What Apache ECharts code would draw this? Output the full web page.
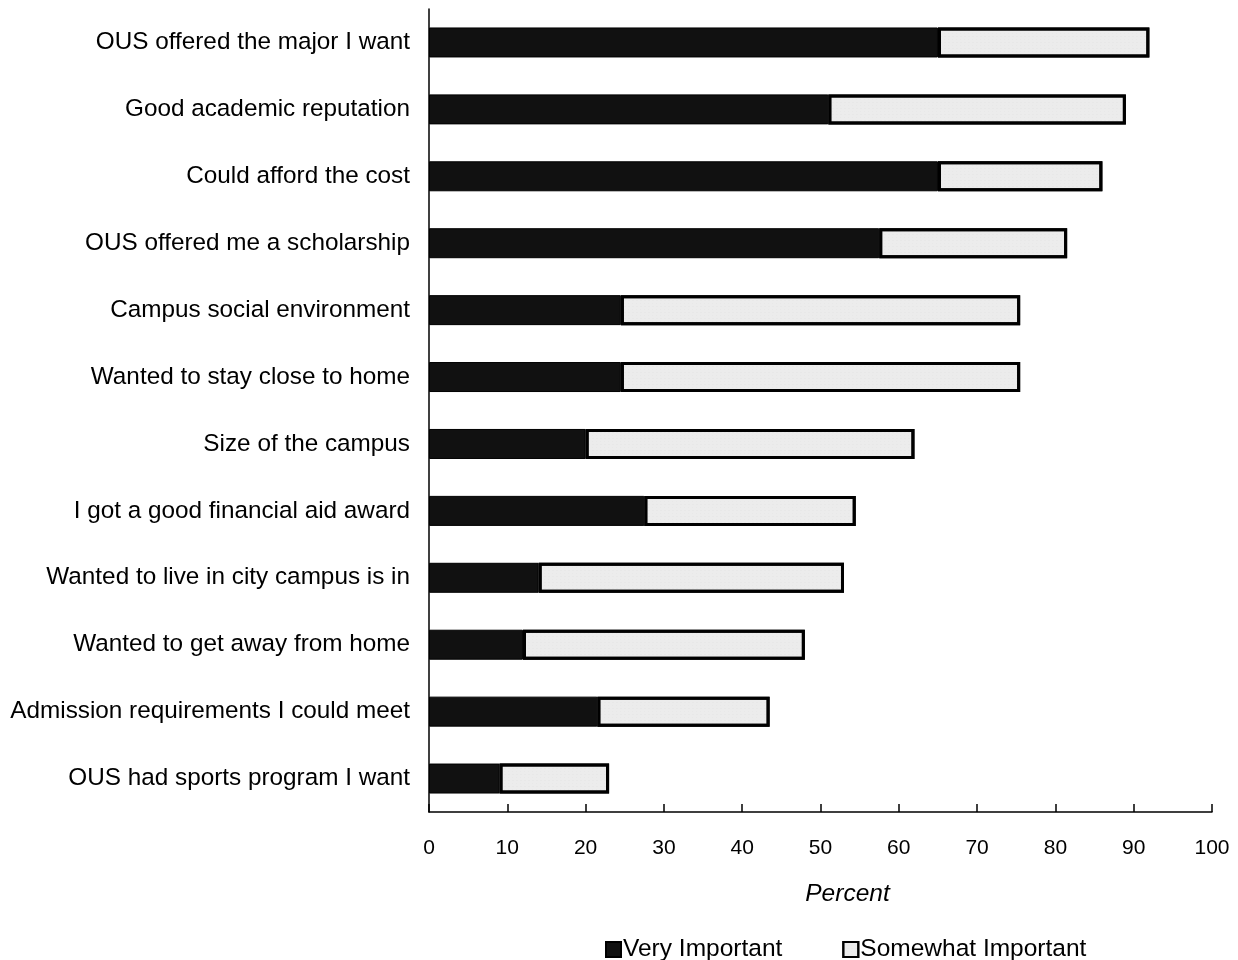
<!doctype html>
<html>
<head>
<meta charset="utf-8">
<script src="https://cdn.jsdelivr.net/npm/echarts@6/dist/echarts.min.js"></script>
<style>
  html, body { margin: 0; padding: 0; background: #fff; }
  #chart { width: 1238px; height: 960px; }
</style>
</head>
<body>
<div id="chart"></div>
<script>
// reasons for choosing OUS, percent of students
var reasons = [
  'OUS offered the major I want',
  'Good academic reputation',
  'Could afford the cost',
  'OUS offered me a scholarship',
  'Campus social environment',
  'Wanted to stay close to home',
  'Size of the campus',
  'I got a good financial aid award',
  'Wanted to live in city campus is in',
  'Wanted to get away from home',
  'Admission requirements I could meet',
  'OUS had sports program I want'
];
var veryImportant     = [65, 51, 65, 57.5, 24.5, 24.5, 20, 27.5, 14, 12, 21.5, 9];
var somewhatImportant = [27, 38, 21, 24, 51, 51, 42, 27, 39, 36, 22, 14];
var xTicks = [0, 10, 20, 30, 40, 50, 60, 70, 80, 90, 100];

var font = '"Liberation Sans", Arial, sans-serif';
var chart = echarts.init(document.getElementById('chart'));

var option = {
  animation: false,
  textStyle: { fontFamily: font, color: '#000' },
  grid: { left: 429, right: 26, top: 9, bottom: 148 },
  legend: {
    left: 600,
    top: 932,
    itemWidth: 15,
    itemHeight: 15,
    itemGap: 60,
    icon: 'rect',
    textStyle: { fontSize: 24.5, color: '#000', fontFamily: font, padding: [0, 0, 0, -3] },
    data: ['Very Important', 'Somewhat Important']
  },
  xAxis: {
    type: 'value',
    min: xTicks[0],
    max: xTicks[xTicks.length - 1],
    interval: 10,
    name: 'Percent',
    nameLocation: 'middle',
    nameGap: 70,
    nameTextStyle: { fontSize: 24.5, fontStyle: 'italic', color: '#000', padding: [0, 0, 0, 54] },
    axisLine: { show: true, lineStyle: { color: '#000', width: 1.5 } },
    axisTick: { show: true, inside: true, length: 8, lineStyle: { color: '#000', width: 1.5 } },
    axisLabel: { fontSize: 21, color: '#000', margin: 26 },
    splitLine: { show: false }
  },
  yAxis: {
    type: 'category',
    data: reasons,
    inverse: true,
    axisLine: { show: true, lineStyle: { color: '#000', width: 1.5 } },
    axisTick: { show: false },
    axisLabel: { fontSize: 24.3, color: '#000', margin: 19 }
  },
  series: [
    {
      name: 'Very Important',
      type: 'bar',
      stack: 'total',
      barWidth: 30,
      data: veryImportant,
      itemStyle: { color: '#111', borderColor: '#000', borderWidth: 1 }
    },
    {
      name: 'Somewhat Important',
      type: 'bar',
      stack: 'total',
      barWidth: 30,
      data: somewhatImportant,
      itemStyle: {
        color: '#ececec',
        borderColor: '#000',
        borderWidth: 3,
        decal: {
          symbol: 'rect',
          symbolSize: 0.25,
          color: 'rgba(60,60,60,0.35)',
          dashArrayX: [[1, 3], [2, 2]],
          dashArrayY: [1, 2],
          rotation: 0
        }
      }
    }
  ]
};

chart.setOption(option);
</script>
</body>
</html>
